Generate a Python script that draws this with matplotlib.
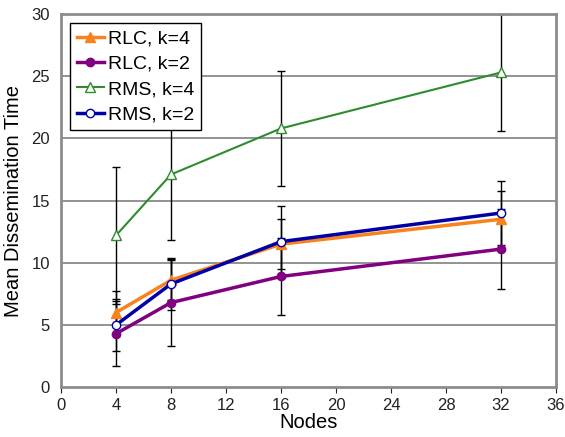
import matplotlib.pyplot as plt
from matplotlib.lines import Line2D

plt.rcParams['font.family'] = ['Liberation Sans', 'DejaVu Sans']

nodes = [4, 8, 16, 32]

rlc_k4 = [6.0, 8.6, 11.5, 13.5]
rlc_k4_err = [1.7, 1.6, 2.0, 2.3]
rlc_k2 = [4.3, 6.8, 8.9, 11.1]
rlc_k2_err = [2.6, 3.5, 3.1, 3.2]
rms_k4 = [12.2, 17.1, 20.8, 25.3]
rms_k4_err = [5.5, 5.3, 4.6, 4.7]
rms_k2 = [5.0, 8.3, 11.7, 14.0]
rms_k2_err = [2.1, 2.1, 2.9, 2.6]

x_ticks = [0, 4, 8, 12, 16, 20, 24, 28, 32, 36]
y_ticks = [0, 5, 10, 15, 20, 25, 30]

series = [
    ('RLC, k=4', rlc_k4, rlc_k4_err, '#F7821E', 2.5, '^', 7, '#F7821E'),
    ('RLC, k=2', rlc_k2, rlc_k2_err, '#800080', 2.5, 'o', 6, '#800080'),
    ('RMS, k=4', rms_k4, rms_k4_err, '#2E8B2E', 1.5, '^', 7, 'white'),
    ('RMS, k=2', rms_k2, rms_k2_err, '#0000A8', 2.5, 'o', 6, 'white'),
]

fig = plt.figure(figsize=(5.65, 4.37), dpi=100)
ax = fig.add_axes([0.108, 0.114, 0.876, 0.854])

handles = []
for name, vals, err, col, lw, mk, ms, face in series:
    ax.errorbar(nodes, vals, yerr=err, fmt='none', ecolor='black',
                elinewidth=1, capsize=3, capthick=1, zorder=2)
    ax.plot(nodes, vals, color=col, lw=lw, marker=mk, ms=ms,
            mfc=face, mec=col, zorder=3)
    handles.append(Line2D([], [], color=col, lw=lw, marker=mk, ms=ms,
                          mfc=face, mec=col, label=name))

ax.set_xlim(0, 36)
ax.set_ylim(0, 30)
ax.set_xticks(x_ticks)
ax.set_yticks(y_ticks)
ax.tick_params(labelsize=12, length=4, direction='out', colors='#222222')
ax.tick_params(axis='y', length=0, pad=8)

for y in y_ticks[1:-1]:
    ax.axhline(y, color='#808080', lw=1.2, zorder=1)

for s in ax.spines.values():
    s.set_linestyle((0, (1, 1)))
    s.set_color('#8c8c8c')
    s.set_linewidth(2)

ax.set_xlabel('Nodes', fontsize=14.5, labelpad=0)
ax.set_ylabel('Mean Dissemination Time', fontsize=14.5, labelpad=6)

leg = ax.legend(handles=handles, loc='upper left', bbox_to_anchor=(0.018, 0.976),
                fontsize=14, frameon=True, fancybox=False, edgecolor='black',
                framealpha=1, handlelength=1.4, handletextpad=0.2,
                borderpad=0.35, labelspacing=0.4, borderaxespad=0)
leg.get_frame().set_linewidth(1)
leg.set_zorder(10)

fig.savefig('out.png', dpi=100)
